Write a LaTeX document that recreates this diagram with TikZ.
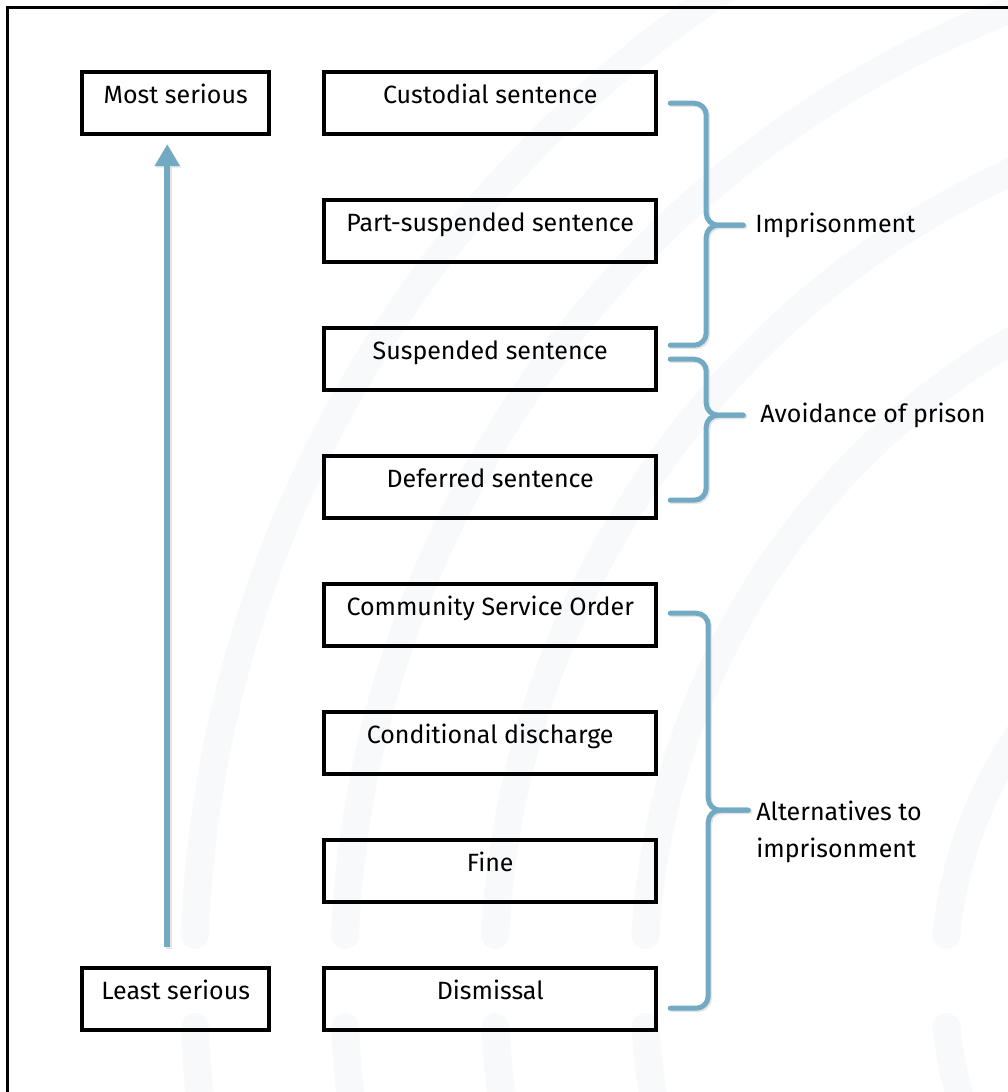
\documentclass[tikz,border=0pt]{standalone}
\usepackage{fontspec}
\setmainfont{Fira Sans}
\usetikzlibrary{calc,arrows.meta}
\definecolor{scaleblue}{RGB}{114,170,196}
\definecolor{faintarc}{RGB}{248,249,251}

\begin{document}
\begin{tikzpicture}[x=1pt,y=-1pt,font=\fontsize{25}{37}\selectfont]
    % `tier' is used for the sentence boxes, `endpoint' for the two ends of the scale.
    % `bracket' is used for the blue braces, `shade' for their soft shadow.
    \tikzstyle{tier} = [draw,line width=4pt,minimum width=332pt,inner xsep=0pt,inner ysep=0pt,outer sep=0pt,text height=31pt,text depth=31pt]
    \tikzstyle{endpoint} = [tier,minimum width=187pt]
    \tikzstyle{bracket} = [scaleblue,line width=5pt,line cap=round,rounded corners=12pt]
    \tikzstyle{shade} = [black!10,transform canvas={shift={(1.5pt,-1.5pt)}}]
    \tikzstyle{watermark} = [faintarc,line width=28pt,line cap=round]
    \tikzstyle{rise} = [scaleblue,line width=6pt,-{Triangle[length=22pt,width=24pt]}]
    \useasboundingbox (0,0) rectangle (1008,1092);
    % Faint background arcs.
    \foreach \r in {440,740,890,1040,1190}{
      \draw[watermark] ($(1384,980)+({180+asin(45/\r)}:\r)$) arc[start angle={180+asin(45/\r)}, end angle=275, radius=\r];
      \draw[watermark] ($(1384,980)+({180-asin(47/\r)}:\r)$) arc[start angle={180-asin(47/\r)}, end angle={180-asin(170/\r)}, radius=\r];
    }
    % Frame.
    \draw[line width=3.5pt] (7.5,1100) -- (7.5,7.5) -- (1020,7.5);
    %
    \matrix[row sep=62pt, column sep=51pt, inner sep=0pt, anchor=north west] (ladder) at (80,70) {
      \node[endpoint] (most) {Most serious}; &
      \node[tier] (custodial) {Custodial sentence}; \\
      & \node[tier] (partsusp) {Part-suspended sentence}; \\
      & \node[tier] (suspended) {Suspended sentence}; \\
      & \node[tier] (deferred) {Deferred sentence}; \\
      & \node[tier] (community) {Community Service Order}; \\
      & \node[tier] (conditional) {Conditional discharge}; \\
      & \node[tier] (fine) {Fine}; \\
      \node[endpoint] (least) {Least serious}; &
      \node[tier] (dismissal) {Dismissal}; \\
    };
    % Scale arrow.
    \draw[rise,shade] ([xshift=-8.5pt,yshift=21pt]least.north) -- ([xshift=-8.5pt,yshift=-10pt]most.south);
    \draw[rise] ([xshift=-8.5pt,yshift=21pt]least.north) -- ([xshift=-8.5pt,yshift=-10pt]most.south);
    % Brace ends and tips.
    \coordinate (imptop) at ($(custodial.east)+(14,0)$);
    \coordinate (impbot) at ($(suspended.east)+(14,-14)$);
    \coordinate (imptip) at ($(partsusp.east)+(87,-6)$);
    \coordinate (avotop) at ($(suspended.east)+(14,0)$);
    \coordinate (avobot) at ($(deferred.east)+(14,13)$);
    \coordinate (avotip) at ($(avotop)+(73,56)$);
    \coordinate (alttop) at ($(community.east)+(14,-2)$);
    \coordinate (altbot) at ($(dismissal.east)+(14,9)$);
    \coordinate (alttip) at ($(alttop)+(78,197)$);
    % Draw braces.
    \foreach \t/\b/\m/\s in {imptop/impbot/imptip/37,avotop/avobot/avotip/37,alttop/altbot/alttip/40}{
      \draw[bracket,shade] (\t) -| ($(\m)+(-\s,0)$) -- (\m);
      \draw[bracket,shade] (\m) -- ($(\m)+(-\s,0)$) |- (\b);
      \draw[bracket] (\t) -| ($(\m)+(-\s,0)$) -- (\m);
      \draw[bracket] (\m) -- ($(\m)+(-\s,0)$) |- (\b);
    }
    % Group labels.
    \node[anchor=west,inner xsep=12pt] (imptext) at (imptip) {Imprisonment};
    \node[anchor=west,inner xsep=17pt] (avotext) at (avotip) {Avoidance of prison};
    \node[anchor=west,inner xsep=8pt,align=left,yshift=-22pt] (alttext) at (alttip) {Alternatives to\\imprisonment};
\end{tikzpicture}
\end{document}
